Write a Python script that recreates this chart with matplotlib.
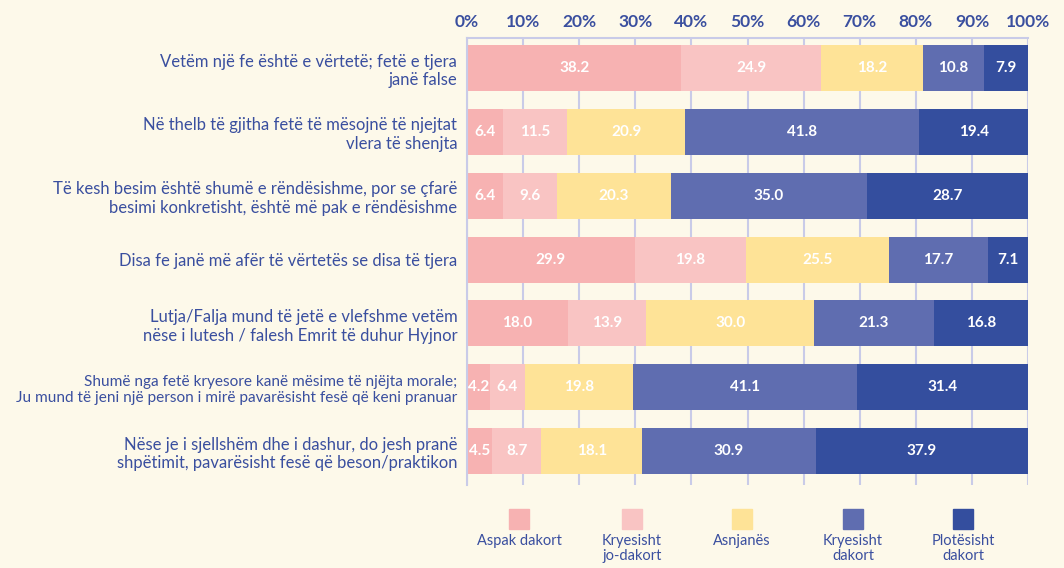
import matplotlib.pyplot as plt
import matplotlib.patches as mpatches
import numpy as np

plt.rcParams['font.family'] = ['Lato', 'DejaVu Sans']

# 数据
statements = [
    'Vetëm një fe është e vërtetë; fetë e tjera\njanë false',
    'Në thelb të gjitha fetë të mësojnë të njejtat\nvlera të shenjta',
    'Të kesh besim është shumë e rëndësishme, por se çfarë\nbesimi konkretisht, është më pak e rëndësishme',
    'Disa fe janë më afër të vërtetës se disa të tjera',
    'Lutja/Falja mund të jetë e vlefshme vetëm\nnëse i lutesh / falesh Emrit të duhur Hyjnor',
    'Shumë nga fetë kryesore kanë mësime të njëjta morale;\nJu mund të jeni një person i mirë pavarësisht fesë që keni pranuar',
    'Nëse je i sjellshëm dhe i dashur, do jesh pranë\nshpëtimit, pavarësisht fesë që beson/praktikon',
]
categories = ['Aspak dakort', 'Kryesisht\njo-dakort', 'Asnjanës', 'Kryesisht\ndakort', 'Plotësisht\ndakort']
aspak = [38.2, 6.4, 6.4, 29.9, 18.0, 4.2, 4.5]
jo_dakort = [24.9, 11.5, 9.6, 19.8, 13.9, 6.4, 8.7]
asnjanes = [18.2, 20.9, 20.3, 25.5, 30.0, 19.8, 18.1]
dakort = [10.8, 41.8, 35.0, 17.7, 21.3, 41.1, 30.9]
plotesisht = [7.9, 19.4, 28.7, 7.1, 16.8, 31.4, 37.9]

colors = ['#f7b2b2', '#f9c4c3', '#fee397', '#5f6db0', '#344e9e']
bg = '#fdf9ea'
txt = '#3a4f9f'

series = np.array([aspak, jo_dakort, asnjanes, dakort, plotesisht])
widths = series / series.sum(axis=0) * 100

fig = plt.figure(figsize=(10.64, 5.68), dpi=100, facecolor=bg)
ax = fig.add_axes([467 / 1064, 1 - 485 / 568, 561 / 1064, 447 / 568])
ax.set_facecolor(bg)

y = np.arange(len(statements))
left = np.zeros(len(statements))
for i in range(len(categories)):
    bars = ax.barh(y, widths[i], left=left, height=0.72, color=colors[i], zorder=2)
    for bar, val in zip(bars, series[i]):
        ax.text(bar.get_x() + bar.get_width() / 2, bar.get_y() + bar.get_height() / 2,
                f'{val:.1f}', ha='center', va='center', color='white',
                fontsize=11, fontweight='bold', zorder=3)
    left += widths[i]

ax.set_xlim(0, 100)
ax.set_ylim(6.53, -0.47)
ax.xaxis.tick_top()
ax.set_xticks(np.arange(0, 101, 10))
ax.set_xticklabels([f'{v}%' for v in range(0, 101, 10)], fontsize=12.5,
                   fontweight='bold', color=txt)
ax.tick_params(axis='x', length=0, pad=6)
ax.set_yticks(y)
ax.set_yticklabels(statements, fontsize=12, color=txt, linespacing=1.2)
ax.get_yticklabels()[5].set_fontsize(11.1)
ax.tick_params(axis='y', length=0, pad=7)
ax.grid(axis='x', color='#c9cbe8', linewidth=1.5, zorder=0)
for s in ['right', 'bottom']:
    ax.spines[s].set_visible(False)
ax.spines['top'].set_color('#c9cbe8')
ax.spines['top'].set_linewidth(1.5)
ax.spines['left'].set_color('#c9cbe8')
ax.spines['left'].set_linewidth(1.5)

# 图例
leg_x = [519, 632, 742, 853, 963]
for xc, c, lab in zip(leg_x, colors, categories):
    fig.add_artist(mpatches.Rectangle(((xc - 10) / 1064, 1 - 529 / 568), 20 / 1064, 20 / 568,
                                      transform=fig.transFigure, color=c))
    fig.text(xc / 1064, 1 - 534 / 568, lab, ha='center', va='top', fontsize=10.5,
             color=txt, linespacing=1.12)

plt.savefig('out.png', dpi=100, facecolor=bg)
